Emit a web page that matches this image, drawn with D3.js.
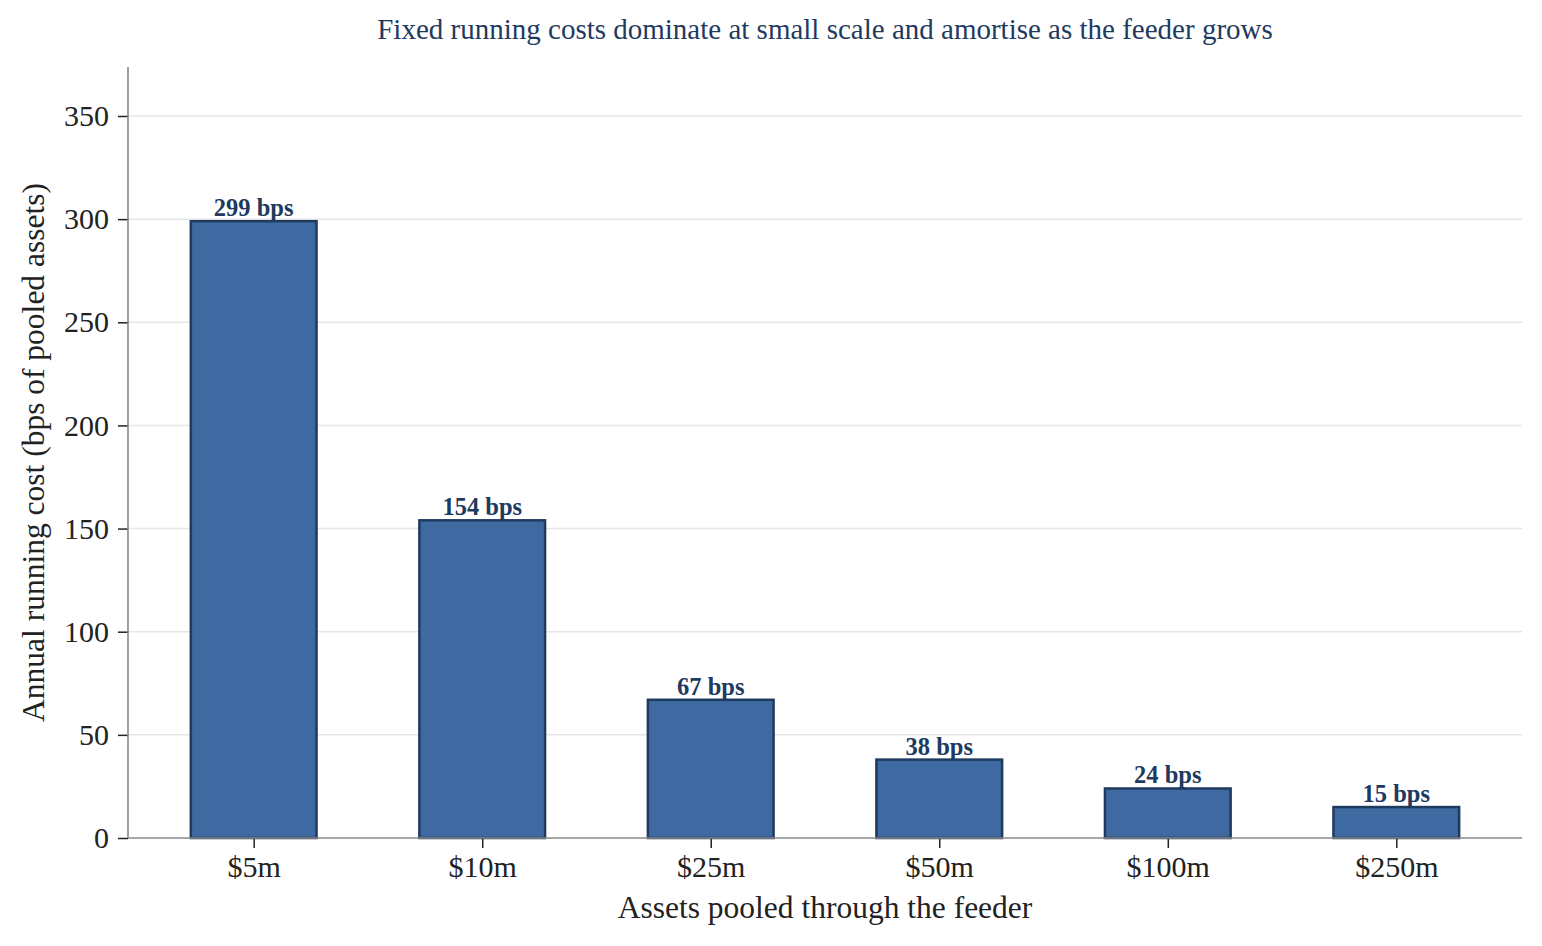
<!DOCTYPE html>
<html>
<head>
<meta charset="utf-8">
<script src="https://cdn.jsdelivr.net/npm/d3@7"></script>
<style>
    body { margin: 0; background: #ffffff; }
    svg text { font-family: "Liberation Serif", "Times New Roman", serif; }
</style>
</head>
<body>
<div id="chart"></div>
<script>
var categories = ['$5m', '$10m', '$25m', '$50m', '$100m', '$250m'];
var costBps = [299, 154, 67, 38, 24, 15];
var yTicks = [0, 50, 100, 150, 200, 250, 300, 350];

var width = 1542, height = 946;
var grid = { left: 128, right: 1522, top: 67, bottom: 838 };

var svg = d3.select('#chart').append('svg')
        .attr('width', width)
        .attr('height', height);

// matplotlib-like limits: x from -0.55 to 5.55, y up to 1.25 * max
var x = d3.scaleLinear()
        .domain([-0.55, categories.length - 1 + 0.55])
        .range([grid.left, grid.right]);
var y = d3.scaleLinear()
        .domain([0, d3.max(costBps) * 1.25])
        .range([grid.bottom, grid.top]);
var barWidth = x(0.55) - x(0);

// grid lines
svg.append('g').selectAll('line')
        .data(yTicks.filter(function(d){ return d > 0; }))
        .enter().append('line')
        .attr('x1', grid.left)
        .attr('x2', grid.right)
        .attr('y1', function(d){ return y(d); })
        .attr('y2', function(d){ return y(d); })
        .attr('stroke', '#e6e6e6')
        .attr('stroke-width', 1.5);

// bars
svg.append('g').selectAll('rect')
        .data(costBps)
        .enter().append('rect')
        .attr('x', function(d, i){ return x(i) - barWidth / 2; })
        .attr('y', function(d){ return y(d); })
        .attr('width', barWidth)
        .attr('height', function(d){ return y(0) - y(d); })
        .attr('fill', '#3e6aa1')
        .attr('stroke', '#1f3a5f')
        .attr('stroke-width', 2.5);

// value labels
svg.append('g').selectAll('text')
        .data(costBps)
        .enter().append('text')
        .attr('x', function(d, i){ return x(i); })
        .attr('y', function(d){ return y(d) - 5; })
        .attr('text-anchor', 'middle')
        .style('font-size', '24.5px')
        .style('font-weight', 'bold')
        .style('fill', '#1f3a5f')
        .text(function(d){ return d + ' bps'; });

// y axis
var yAxis = svg.append('g')
        .attr('transform', 'translate(' + grid.left + ',0)')
        .call(d3.axisLeft(y).tickValues(yTicks).tickSize(10).tickPadding(9));
yAxis.select('.domain').remove();
yAxis.selectAll('.tick line').attr('stroke', '#222').attr('stroke-width', 1.5);
yAxis.selectAll('.tick text').style('font-size', '30px').style('fill', '#222')
        .attr('font-family', null);

// x axis
var xAxis = svg.append('g')
        .attr('transform', 'translate(0,' + grid.bottom + ')')
        .call(d3.axisBottom(x).tickValues(d3.range(categories.length))
                .tickFormat(function(i){ return categories[i]; })
                .tickSize(10).tickPadding(8));
xAxis.select('.domain').remove();
xAxis.selectAll('.tick line').attr('stroke', '#222').attr('stroke-width', 1.5);
xAxis.selectAll('.tick text').style('font-size', '30px').style('fill', '#222')
        .attr('font-family', null);

// spines
svg.append('line')
        .attr('x1', grid.left).attr('x2', grid.left)
        .attr('y1', grid.top).attr('y2', grid.bottom)
        .attr('stroke', '#888').attr('stroke-width', 1.6);
svg.append('line')
        .attr('x1', grid.left).attr('x2', grid.right)
        .attr('y1', grid.bottom).attr('y2', grid.bottom)
        .attr('stroke', '#888').attr('stroke-width', 1.6);

// labels
svg.append('text')
        .attr('x', (grid.left + grid.right) / 2)
        .attr('y', 39)
        .attr('text-anchor', 'middle')
        .style('font-size', '29px')
        .style('fill', '#1f3a5f')
        .text('Fixed running costs dominate at small scale and amortise as the feeder grows');

svg.append('text')
        .attr('x', (grid.left + grid.right) / 2)
        .attr('y', 918)
        .attr('text-anchor', 'middle')
        .style('font-size', '31.5px')
        .style('fill', '#222')
        .text('Assets pooled through the feeder');

svg.append('text')
        .attr('text-anchor', 'middle')
        .attr('transform', 'translate(44,' + ((grid.top + grid.bottom) / 2) + ')rotate(270)')
        .style('font-size', '31.5px')
        .style('fill', '#222')
        .text('Annual running cost (bps of pooled assets)');
</script>
</body>
</html>
